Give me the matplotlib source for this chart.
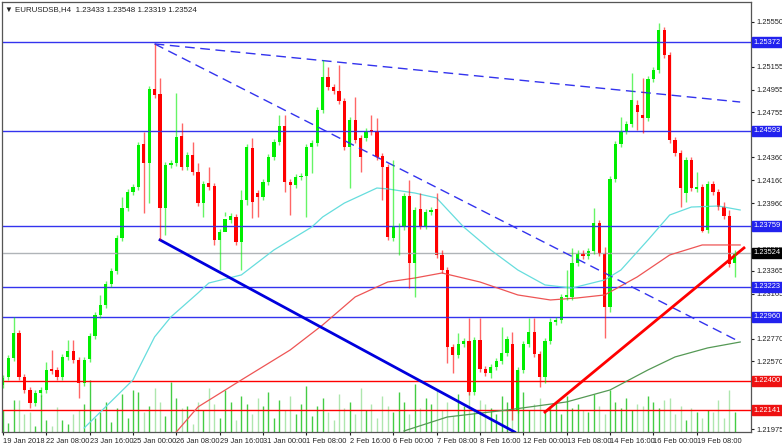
import matplotlib
matplotlib.use("Agg")
import matplotlib.pyplot as plt
from matplotlib import font_manager
import numpy as np

# H4 candles, 19 Jan 2018 .. 19 Feb 2018
opens = [1.22363, 1.22433, 1.22600, 1.22819, 1.22433, 1.22319, 1.22205, 1.22292, 1.22319, 1.22503,
         1.22495, 1.22433, 1.22609, 1.22661, 1.22582, 1.22380, 1.22591, 1.22793, 1.22977, 1.23065,
         1.23250, 1.23364, 1.23653, 1.23917, 1.24057, 1.24101, 1.24479, 1.24312, 1.24962, 1.24918,
         1.23917, 1.24294, 1.24312, 1.24549, 1.24277, 1.24382, 1.24233, 1.23960, 1.24136, 1.24110,
         1.23636, 1.23706, 1.23811, 1.23838, 1.23618, 1.23987, 1.24444, 1.24048, 1.24013, 1.24145,
         1.24365, 1.24496, 1.24637, 1.24145, 1.24119, 1.24189, 1.24198, 1.24452, 1.24487, 1.24777,
         1.25067, 1.24979, 1.24944, 1.24856, 1.24452, 1.24689, 1.24531, 1.24531, 1.24602, 1.24584,
         1.24373, 1.24277, 1.23653, 1.23750, 1.23750, 1.24022, 1.23434, 1.23908, 1.23759, 1.23882,
         1.23908, 1.23504, 1.23372, 1.22696, 1.22626, 1.22723, 1.22749, 1.22301, 1.22758, 1.22503,
         1.22468, 1.22521, 1.22573, 1.22644, 1.22723, 1.22143, 1.22495, 1.22723, 1.22828, 1.22635,
         1.22433, 1.22749, 1.22916, 1.22933, 1.23136, 1.23136, 1.23434, 1.23522, 1.23495, 1.23539,
         1.23785, 1.23522, 1.23048, 1.24171, 1.24479, 1.24593, 1.24654, 1.24821, 1.24733, 1.24707,
         1.25049, 1.25128, 1.25480, 1.25260, 1.24514, 1.24400, 1.24048, 1.24338, 1.24084, 1.24101,
         1.23724, 1.24128, 1.24057, 1.23925, 1.23847, 1.23433]
closes = [1.22424, 1.22600, 1.22819, 1.22433, 1.22319, 1.22205, 1.22292, 1.22319, 1.22495, 1.22486,
          1.22433, 1.22609, 1.22661, 1.22582, 1.22380, 1.22582, 1.22793, 1.22977, 1.23065, 1.23250,
          1.23364, 1.23653, 1.23917, 1.24057, 1.24101, 1.24470, 1.24312, 1.24962, 1.24909, 1.23917,
          1.24294, 1.24312, 1.24540, 1.24277, 1.24382, 1.24233, 1.23960, 1.24128, 1.24101, 1.23636,
          1.23706, 1.23820, 1.23847, 1.23618, 1.23987, 1.24452, 1.23969, 1.24013, 1.24145, 1.24365,
          1.24496, 1.24637, 1.24145, 1.24119, 1.24189, 1.24198, 1.24452, 1.24487, 1.24777, 1.25067,
          1.24979, 1.24944, 1.24856, 1.24452, 1.24689, 1.24514, 1.24365, 1.24593, 1.24584, 1.24365,
          1.24277, 1.23662, 1.23750, 1.23759, 1.24022, 1.23434, 1.23899, 1.23759, 1.23882, 1.23899,
          1.23504, 1.23372, 1.22696, 1.22626, 1.22723, 1.22749, 1.22301, 1.22758, 1.22503, 1.22468,
          1.22521, 1.22573, 1.22644, 1.22767, 1.22143, 1.22495, 1.22723, 1.22828, 1.22635, 1.22433,
          1.22749, 1.22916, 1.22933, 1.23136, 1.23153, 1.23434, 1.23522, 1.23495, 1.23539, 1.23785,
          1.23522, 1.23048, 1.24171, 1.24479, 1.24593, 1.24654, 1.24865, 1.24760, 1.24707, 1.25049,
          1.25128, 1.25480, 1.25260, 1.24514, 1.24400, 1.24092, 1.24338, 1.24092, 1.24101, 1.23715,
          1.24128, 1.24057, 1.23925, 1.23847, 1.23425, 1.23524]
# notable wick extremes: bar -> (high, low)
wicks = {2: (1.22960, None), 5: (None, 1.22161), 8: (1.22565, None), 9: (1.22670, None),
         12: (1.22758, None), 13: (1.22758, None), 14: (None, 1.22249), 18: (1.23153, None),
         22: (1.24013, None), 26: (1.24584, 1.23873), 27: (None, 1.23960), 28: (1.25357, None),
         29: (1.25058, 1.23636), 30: (None, 1.23680), 32: (1.24926, None), 33: (1.24663, None),
         35: (1.24496, None), 36: (1.24312, None), 37: (None, 1.23838), 38: (1.24277, None),
         39: (None, 1.23592), 40: (None, 1.23372), 41: (None, 1.23882), 44: (1.24075, 1.23372),
         45: (None, 1.23943), 46: (1.24531, 1.23829), 47: (None, 1.23838), 51: (1.24733, None),
         52: (1.24733, 1.24057), 53: (None, 1.23855), 56: (None, 1.23838), 57: (None, 1.24224),
         59: (1.25216, None), 60: (1.25155, None), 62: (1.25172, None), 64: (None, 1.24092),
         65: (1.24891, None), 66: (None, 1.24233), 68: (1.24733, None), 69: (1.24707, None),
         70: (None, 1.23987), 72: (1.24338, None), 73: (None, 1.23504), 75: (1.24163, 1.23214),
         76: (None, 1.23136), 77: (1.24048, None), 80: (1.24048, None), 81: (1.23548, None),
         82: (None, 1.22556), 83: (None, 1.22468), 84: (1.22819, None), 86: (1.22951, None),
         88: (1.22951, None), 90: (None, 1.22424), 92: (1.22872, None), 94: (1.22828, 1.22055),
         97: (1.22951, None), 98: (1.22951, None), 99: (None, 1.22345), 100: (None, 1.22380),
         101: (1.22951, None), 104: (1.23372, None), 105: (1.23566, None), 109: (1.23917, None),
         111: (1.23574, 1.22776), 112: (None, 1.23004), 114: (1.24716, None), 116: (1.25102, None),
         117: (1.24865, 1.24602), 118: (1.25058, 1.24575), 121: (1.25541, None), 123: (None, 1.24487),
         125: (None, 1.23925), 126: (None, 1.23969), 128: (1.24233, None), 129: (None, 1.23706),
         130: (None, 1.23698), 133: (1.23969, None), 134: (1.23899, None), 135: (1.23548, 1.23311)}
volumes = [22, 9, 32, 32, 18, 20, 6, 37, 12, 6, 25, 12, 8, 18, 22, 28, 52, 14, 20, 30,
           10, 24, 38, 14, 42, 40, 20, 26, 44, 30, 16, 50, 34, 24, 26, 8, 30, 22, 44, 28,
           14, 42, 30, 12, 36, 28, 18, 34, 26, 40, 14, 32, 22, 36, 18, 28, 46, 16, 26, 34,
           20, 12, 38, 24, 30, 18, 44, 22, 28, 14, 36, 26, 20, 40, 30, 18, 48, 24, 34, 28,
           42, 22, 30, 16, 38, 26, 44, 20, 32, 28, 24, 18, 36, 30, 26, 62, 40, 22, 28, 34,
           20, 26, 30, 18, 36, 24, 28, 22, 20, 38, 26, 18, 42, 30, 24, 34, 22, 28, 26, 36,
           30, 24, 32, 34, 18, 26, 12, 24, 20, 14, 22, 20, 32, 14, 42, 20]

ma_cyan_idx = [15, 24, 28, 31, 36, 38, 44, 50, 57, 59, 63, 69, 71, 76, 80, 85, 90, 95, 100, 105,
               111, 114, 119, 123, 127, 132, 136]
ma_cyan = [1.21985, 1.22407, 1.22785, 1.22960, 1.23170, 1.23258, 1.23329, 1.23548, 1.23750, 1.23838,
           1.23960, 1.24092, 1.24084, 1.24048, 1.24005, 1.23750, 1.23548, 1.23372, 1.23241, 1.23214,
           1.23285, 1.23372, 1.23636, 1.23855, 1.23925, 1.23934, 1.23899]
ma_red_idx = [32, 36, 44, 53, 59, 65, 71, 76, 81, 88, 95, 101, 106, 111, 117, 123, 129, 136]
ma_red = [1.21950, 1.22170, 1.22407, 1.22670, 1.22890, 1.23136, 1.23267, 1.23302, 1.23346, 1.23267,
          1.23153, 1.23109, 1.23127, 1.23153, 1.23311, 1.23504, 1.23592, 1.23592]
ma_green_idx = [74, 82, 93, 104, 112, 119, 124, 130, 136]
ma_green = [1.21959, 1.22082, 1.22143, 1.22214, 1.22319, 1.22495, 1.22609, 1.22688, 1.22740]

blue_levels = [1.25372, 1.24593, 1.23759, 1.23223, 1.22960]
red_levels = [1.22400, 1.22141]
last_price = 1.23524

tick_prices = [1.25550, 1.25155, 1.24955, 1.24755, 1.24360, 1.24160, 1.23960,
               1.23555, 1.23365, 1.23165, 1.22770, 1.22570, 1.22370, 1.21975]
date_idx = list(range(0, 129, 8))
date_labels = ["19 Jan 2018", "22 Jan 08:00", "23 Jan 16:00", "25 Jan 00:00", "26 Jan 08:00",
               "29 Jan 16:00", "31 Jan 00:00", "1 Feb 08:00", "2 Feb 16:00", "6 Feb 00:00",
               "7 Feb 08:00", "8 Feb 16:00", "12 Feb 00:00", "13 Feb 08:00", "14 Feb 16:00",
               "16 Feb 00:00", "19 Feb 08:00"]

GREEN = "#00ee00"
RED = "#ff0000"
BLUE = "#3333ee"

names = {f.name for f in font_manager.fontManager.ttflist}
FONT = "Liberation Sans Narrow" if "Liberation Sans Narrow" in names else "Liberation Sans"
FS = 5.4

fig = plt.figure(figsize=(7.82, 4.45), dpi=100)
ax = fig.add_axes([2/782, 13/445, 749/782, 430/445])
ax.set_xlim(-0.15, 138.0)
ax.set_ylim(1.21950, 1.25725)

# volume overlay
axv = ax.twinx()
axv.set_ylim(0, 430)
axv.set_yticks([])
for i, v in enumerate(volumes):
    col = "#44cc44" if closes[i] >= opens[i] else "#aee6ae"
    axv.vlines(i, 0, v, color=col, lw=1)
ax.set_zorder(axv.get_zorder() + 1)
ax.patch.set_visible(False)

for lv in blue_levels:
    ax.axhline(lv, color=BLUE, lw=1)
for lv in red_levels:
    ax.axhline(lv, color=RED, lw=1)
ax.axhline(last_price, color="#b0b4b8", lw=1)

ax.plot(ma_cyan_idx, ma_cyan, color="#66dddd", lw=0.9)
ax.plot(ma_red_idx, ma_red, color="#ee5555", lw=0.9)
ax.plot(ma_green_idx, ma_green, color="#559955", lw=0.9)

# trend lines
ax.plot([28, 136], [1.25357, 1.24847], color=BLUE, lw=1, ls=(0, (7, 4)))
ax.plot([28, 136], [1.25357, 1.22740], color=BLUE, lw=1, ls=(0, (7, 4)))
ax.plot([29, 94.4], [1.23636, 1.21950], color="#0000dd", lw=2)
ax.plot([100, 136.7], [1.22125, 1.23566], color=RED, lw=2)

for i, (o, c) in enumerate(zip(opens, closes)):
    col = GREEN if c >= o else RED
    hi, lo = wicks.get(i, (None, None))
    top = max(o, c); bot = min(o, c)
    hi = hi if hi else top + 0.00025
    lo = lo if lo else bot - 0.00025
    ax.vlines(i, lo, hi, color=col, lw=1, alpha=0.6)
    ax.bar(i, max(top - bot, 0.00003), bottom=bot, width=0.6, color=col, lw=0)

ax.yaxis.tick_right()
ax.set_yticks(tick_prices)
ax.set_yticklabels(["%.5f" % t for t in tick_prices])
ax.set_xticks(date_idx)
ax.set_xticklabels(date_labels, ha="left")
ax.tick_params(labelsize=FS, length=2.5, colors="#222222", pad=1.5)
for lab in ax.get_xticklabels() + ax.get_yticklabels():
    lab.set_fontfamily(FONT)
for sp in ax.spines.values():
    sp.set_color("#555555")

def price_box(p, bg, fg="white"):
    ax.annotate("%.5f" % p, xy=(1.0, p), xycoords=("axes fraction", "data"),
                xytext=(1.5, 0), textcoords="offset points", va="center", ha="left",
                fontsize=FS, color=fg, family=FONT,
                bbox=dict(boxstyle="square,pad=0.2", fc=bg, ec=bg))

for lv in blue_levels:
    price_box(lv, "#2222ee")
for lv in red_levels:
    price_box(lv, "#ee1111")
price_box(last_price, "#000000")

ax.text(0.004, 0.99, "\u25bc EURUSDSB,H4  1.23433 1.23548 1.23319 1.23524", transform=ax.transAxes,
        fontsize=FS + 0.3, family=FONT, va="top", ha="left", color="#222222")

fig.savefig("out.png", dpi=100)
